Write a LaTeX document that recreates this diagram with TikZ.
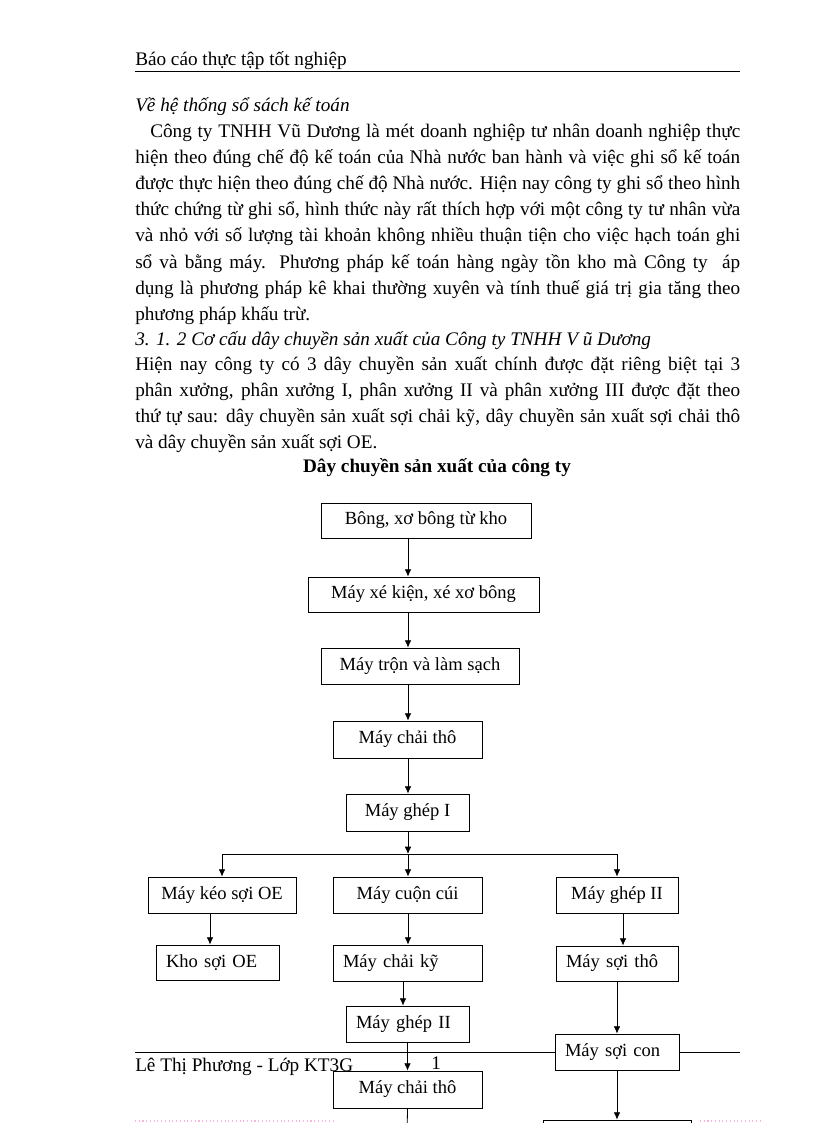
\documentclass[tikz,border=0pt]{standalone}
\usepackage{fontspec}
\setmainfont{Liberation Serif}
\usetikzlibrary{positioning}
\usetikzlibrary{arrows.meta}
\usetikzlibrary{calc}
\tikzset{
  >={Latex[length=5.5pt,width=5pt]},
  box/.style={draw, fill=white, line width=0.6pt, inner xsep=0pt, inner ysep=0pt,
    minimum height=27pt, font=\fontsize{13.9}{16}\selectfont},
  lbox/.style={box, align=left, text width=#1, inner xsep=7.5pt},
  flow/.style={->, line width=0.6pt},
  line/.style={anchor=base west, inner sep=0pt, font=\fontsize{14.4}{17}\selectfont},
  topic/.style={line, font=\fontsize{14.4}{17}\selectfont\itshape},
}
\newcommand{\fullline}[1]{\makebox[453.75pt][s]{#1}}

\begin{document}
\begin{tikzpicture}[x=0.75pt,y=-0.75pt]
\useasboundingbox (0,0) rectangle (816,1123);

% header
\node (head) [line] at (135,66) {Báo cáo thực tập tốt nghiệp};
\draw[line width=0.6pt] (135,71) -- (740,71);

% text above the chart
\node (t0) [topic] at (135,112) {Về hệ thống sổ sách kế toán};
\node (p1) [line] at (150,138) {\makebox[442.5pt][s]{Công ty TNHH Vũ Dương là mét doanh nghiệp tư nhân doanh nghiệp thực}};
\node (p2) [line] at (135,164) {\fullline{hiện theo đúng chế độ kế toán của Nhà nước ban hành và việc ghi sổ kế toán}};
\node (p3) [line] at (135,190) {\fullline{được thực hiện theo đúng chế độ Nhà nước. Hiện nay công ty ghi sổ theo hình}};
\node (p4) [line] at (135,216) {\fullline{thức chứng từ ghi sổ, hình thức này rất thích hợp với một công ty tư nhân vừa}};
\node (p5) [line] at (135,242) {\fullline{và nhỏ với số lượng tài khoản không nhiều thuận tiện cho việc hạch toán ghi}};
\node (p6) [line] at (135,268) {\fullline{sổ và bằng máy. Phương pháp kế toán hàng ngày tồn kho mà Công ty \ áp}};
\node (p7) [line] at (135,294) {\fullline{dụng là phương pháp kê khai thường xuyên và tính thuế giá trị gia tăng theo}};
\node (p8) [line] at (135,320) {phương pháp khấu trừ.};
\node (t1) [topic] at (135,345) {3. 1. 2 Cơ cấu dây chuyền sản xuất của Công ty TNHH V ũ Dương};
\node (q1) [line] at (135,370) {\fullline{Hiện nay công ty có 3 dây chuyền sản xuất chính được đặt riêng biệt tại 3}};
\node (q2) [line] at (135,396) {\fullline{phân xưởng, phân xưởng I, phân xưởng II và phân xưởng III được đặt theo}};
\node (q3) [line] at (135,422) {\fullline{thứ tự sau: dây chuyền sản xuất sợi chải kỹ, dây chuyền sản xuất sợi chải thô}};
\node (q4) [line] at (135,448) {và dây chuyền sản xuất sợi OE.};
\node (title) [anchor=base, inner sep=0pt, font=\fontsize{14.4}{17}\selectfont\bfseries] at (437,472) {Dây chuyền sản xuất của công ty};

% footer rule (the box on the right covers it)
\draw[line width=0.6pt] (135,1052) -- (740,1052);
\draw[magenta!30, dotted, line width=0.8pt] (135,1121) -- (335,1121);
\draw[magenta!30, dotted, line width=0.8pt] (700,1121) -- (760,1121);

% main line
\node (b1) [box, minimum width=157.5pt, minimum height=26.25pt] at (426,520.5) {Bông, xơ bông từ kho};
\node (b2) [box, minimum width=173.25pt, minimum height=26.25pt] at (423.5,594.5) {Máy xé kiện, xé xơ bông};
\node (b3) [box, minimum width=148.5pt] at (420,666) {Máy trộn và làm sạch};
\node (b4) [box, minimum width=111.75pt, minimum height=27.75pt] at (407.5,739.5) {Máy chải thô};
\node (b5) [box, minimum width=92.25pt, minimum height=27.75pt] at (407.5,812.5) {Máy ghép I};

% three branches
\node (k1) [box, minimum width=111pt] at (222,895) {Máy kéo sợi OE};
\node (k2) [lbox=77.25pt, minimum height=26.25pt] at (217.5,962.5) {Kho sợi OE};
\node (m1) [box, minimum width=111.75pt] at (407.5,895) {Máy cuộn cúi};
\node (m2) [lbox=96.75pt] at (407.5,963) {Máy chải kỹ};
\node (m3) [lbox=77.25pt] at (407.5,1024) {Máy ghép II};
\node (m4) [box, minimum width=111.75pt, minimum height=27.75pt] at (407.5,1089.5) {Máy chải thô};
\node (r1) [box, minimum width=91.5pt] at (617,895) {Máy ghép II};
\node (r2) [lbox=76.5pt, minimum height=26.25pt] at (617,963.5) {Máy sợi thô};
\node (r3) [lbox=78pt] at (617,1052) {Máy sợi con};
\node (r4) [box, minimum width=111pt] at (617,1138) {};

\coordinate (spine) at (408,0);
\coordinate (fork) at (408,854);
\coordinate (kline) at (210,0);
\coordinate (mline) at (403,0);
\coordinate (rline) at (623,0);
\coordinate (next) at (407,1140);

\draw[flow] (b1.south -| spine) -- (b2.north -| spine);
\draw[flow] (b2.south -| spine) -- (b3.north -| spine);
\draw[flow] (b3.south -| spine) -- (b4.north -| spine);
\draw[flow] (b4.south -| spine) -- (b5.north -| spine);
\draw[flow] (b5.south -| spine) -- (fork);
\draw[line width=0.6pt] (k1.north |- fork) -- (r1.north |- fork);
\draw[flow] (k1.north |- fork) -- (k1.north);
\draw[flow] (fork) -- (m1.north -| spine);
\draw[flow] (r1.north |- fork) -- (r1.north);

\draw[flow] (k1.south -| kline) -- (k2.north -| kline);
\draw[flow] (m1.south -| spine) -- (m2.north -| spine);
\draw[flow] (m2.south -| mline) -- (m3.north -| mline);
\draw[flow] (m3.south) -- (m4.north);
\draw[line width=0.6pt] (m4.south) -- (next);
\draw[flow] (r1.south -| rline) -- (r2.north -| rline);
\draw[flow] (r2.south) -- (r3.north);
\draw[flow] (r3.south) -- (r4.north);

% footer
\node (foot) [line] at (135,1071) {Lê Thị Phương - Lớp KT3G};
\node (page) [line] at (431,1069) {1};
\end{tikzpicture}
\end{document}
